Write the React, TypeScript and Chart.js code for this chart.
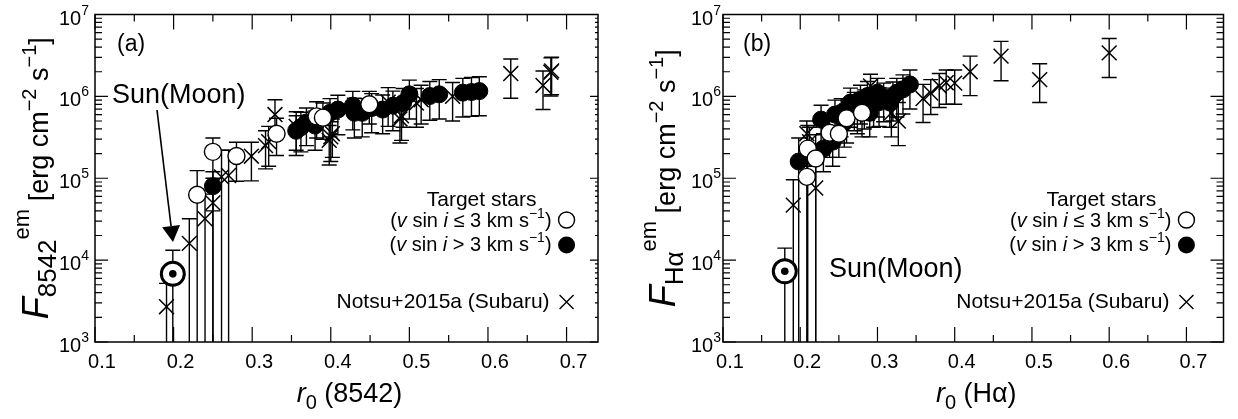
import React, { useEffect, useRef } from "react";
import { Chart, registerables } from "chart.js";
Chart.register(...registerables);

const FONT = '"Liberation Sans", Arial, Helvetica, sans-serif';

// ---------- axis ticks ----------
const X_MAJOR = [0.1, 0.2, 0.3, 0.4, 0.5, 0.6, 0.7];
const X_MAJOR_LABELS = ["0.1", "0.2", "0.3", "0.4", "0.5", "0.6", "0.7"];
const X_MINOR = [0.15, 0.25, 0.35, 0.45, 0.55, 0.65, 0.75];
const Y_EXPONENTS = [3, 4, 5, 6, 7];
const Y_MINOR_MULT = [2, 3, 4, 5, 6, 7, 8, 9];

// ---------- panel (a): r0(8542) vs F8542 ----------
const A_OPEN_R = [0.23, 0.25, 0.28, 0.331, 0.382, 0.39, 0.449];
const A_OPEN_F = [6.3e4, 2.1e5, 1.87e5, 3.5e5, 5.7e5, 5.5e5, 8.0e5];
const A_OPEN_LO = [1e2, 1e2, 9.2e4, 1.9e5, 3.1e5, 3.0e5, 4.6e5];
const A_OPEN_HI = [1.24e5, 3.1e5, 2.75e5, 5.4e5, 8.6e5, 8.3e5, 1.15e6];

const A_FILL_R = [0.25, 0.356, 0.362, 0.369, 0.38, 0.399, 0.409, 0.428, 0.43, 0.44, 0.452, 0.466, 0.479, 0.492, 0.5, 0.526, 0.538, 0.568, 0.579, 0.589];
const A_FILL_F = [8.0e4, 3.8e5, 4.2e5, 4.8e5, 4.4e5, 6.3e5, 6.9e5, 7.7e5, 6.3e5, 6.3e5, 7.2e5, 6.9e5, 7.7e5, 8.3e5, 1.06e6, 1.01e6, 1.06e6, 1.11e6, 1.13e6, 1.16e6];
const A_FILL_LO = [4.0e4, 1.9e5, 2.1e5, 2.5e5, 2.2e5, 3.2e5, 3.4e5, 3.9e5, 3.1e5, 3.2e5, 3.6e5, 3.5e5, 3.8e5, 4.2e5, 5.3e5, 5.1e5, 5.3e5, 5.6e5, 5.7e5, 5.8e5];
const A_FILL_HI = [1.2e5, 5.8e5, 6.4e5, 7.2e5, 6.6e5, 9.4e5, 1.03e6, 1.15e6, 9.5e5, 9.4e5, 1.08e6, 1.04e6, 1.16e6, 1.25e6, 1.58e6, 1.52e6, 1.6e6, 1.66e6, 1.7e6, 1.74e6];

const A_CROSS_R = [0.191, 0.22, 0.24, 0.25, 0.261, 0.27, 0.299, 0.317, 0.321, 0.329, 0.356, 0.398, 0.4, 0.402, 0.473, 0.488, 0.49, 0.509, 0.515, 0.555, 0.629, 0.67, 0.68, 0.681];
const A_CROSS_F = [2.7e3, 1.6e4, 3.2e4, 5.0e4, 1.04e5, 1.08e5, 1.86e5, 2.5e5, 2.8e5, 6.0e5, 4.3e5, 2.9e5, 3.2e5, 3.5e5, 8.5e5, 5.3e5, 5.8e5, 8.3e5, 9.1e5, 1.0e6, 1.9e6, 1.36e6, 1.97e6, 2.05e6];
const A_CROSS_LO = [1e2, 1e2, 1e2, 1e2, 1e2, 1e2, 9.3e4, 1.3e5, 1.4e5, 3.3e5, 2.2e5, 1.45e5, 1.6e5, 1.8e5, 4.3e5, 2.7e5, 2.9e5, 4.2e5, 4.6e5, 5.0e5, 9.5e5, 6.9e5, 1.01e6, 1.05e6];
const A_CROSS_HI = [5.2e3, 3.2e4, 6.4e4, 1.0e5, 2.2e5, 2.2e5, 2.75e5, 3.8e5, 4.3e5, 9.1e5, 6.5e5, 4.4e5, 4.9e5, 5.3e5, 1.28e6, 8.0e5, 8.8e5, 1.25e6, 1.37e6, 1.48e6, 2.86e6, 2.04e6, 2.95e6, 3.0e6];

const A_SUN_R = [0.199];
const A_SUN_F = [6.8e3];
const A_SUN_LO = [1e2];
const A_SUN_HI = [1.32e4];

// ---------- panel (b): r0(Halpha) vs FHalpha ----------
const B_OPEN_R = [0.2085, 0.2097, 0.22, 0.238, 0.25, 0.26, 0.28];
const B_OPEN_F = [1.04e5, 2.3e5, 1.74e5, 3.6e5, 3.5e5, 5.4e5, 6.3e5];
const B_OPEN_LO = [1e2, 1e2, 1e2, 1.8e5, 1.8e5, 2.7e5, 3.2e5];
const B_OPEN_HI = [2.0e5, 4.4e5, 3.4e5, 5.4e5, 5.2e5, 8.1e5, 9.4e5];

const B_FILL_R = [0.198, 0.227, 0.23, 0.242, 0.245, 0.253, 0.257, 0.265, 0.27, 0.274, 0.278, 0.283, 0.287, 0.29, 0.295, 0.3, 0.302, 0.308, 0.316, 0.32, 0.325, 0.333, 0.342];
const B_FILL_F = [1.6e5, 5.2e5, 2.3e5, 2.8e5, 6.0e5, 6.3e5, 4.8e5, 8.4e5, 7.5e5, 6.9e5, 9.1e5, 8.0e5, 1.01e6, 6.3e5, 8.4e5, 1.11e6, 8.5e5, 9.7e5, 8.4e5, 1.0e6, 1.11e6, 1.22e6, 1.4e6];
const B_FILL_LO = [1e2, 2.6e5, 1.2e5, 1.4e5, 3.0e5, 3.2e5, 2.4e5, 4.2e5, 3.8e5, 3.5e5, 4.6e5, 4.0e5, 5.1e5, 3.2e5, 4.2e5, 5.6e5, 4.3e5, 4.9e5, 4.2e5, 5.0e5, 5.6e5, 6.1e5, 7.0e5];
const B_FILL_HI = [3.1e5, 7.8e5, 3.5e5, 4.2e5, 9.0e5, 9.4e5, 7.2e5, 1.26e6, 1.12e6, 1.04e6, 1.37e6, 1.2e6, 1.52e6, 9.4e5, 1.26e6, 1.66e6, 1.28e6, 1.45e6, 1.26e6, 1.5e6, 1.66e6, 1.83e6, 2.1e6];

const B_CROSS_R = [0.191, 0.2085, 0.212, 0.22, 0.291, 0.318, 0.327, 0.359, 0.369, 0.38, 0.389, 0.4, 0.42, 0.46, 0.51, 0.6];
const B_CROSS_F = [4.7e4, 3.5e5, 2.8e5, 7.6e4, 1.34e6, 6.3e5, 5.0e5, 9.4e5, 1.1e6, 1.34e6, 1.47e6, 1.45e6, 2.0e6, 3.1e6, 1.6e6, 3.4e6];
const B_CROSS_LO = [1e2, 1.8e5, 1.4e5, 1e2, 6.7e5, 3.2e5, 2.5e5, 4.8e5, 6.0e5, 7.3e5, 8.0e5, 8.0e5, 1.02e6, 1.55e6, 8.4e5, 1.7e6];
const B_CROSS_HI = [9.6e4, 5.0e5, 4.2e5, 1.5e5, 1.86e6, 9.5e5, 8.4e5, 1.4e6, 1.6e6, 1.9e6, 2.1e6, 2.1e6, 3.1e6, 4.7e6, 2.5e6, 5.1e6];

const B_SUN_R = [0.18];
const B_SUN_F = [7.3e3];
const B_SUN_LO = [1e2];
const B_SUN_HI = [1.4e4];

// ---------- text ----------
type Part = { t: string; s: number; i?: boolean; dy?: number };

const A_Y_TITLE: Part[] = [
  { t: "F", s: 36, i: true },
  { t: "8542", s: 26, dy: 8 },
  { t: "em", s: 22, dy: -19 },
  { t: " [erg cm", s: 27 },
  { t: "\u22122", s: 20, dy: -12 },
  { t: " s", s: 27 },
  { t: "\u22121", s: 20, dy: -12 },
  { t: "]", s: 27 },
];
const B_Y_TITLE: Part[] = [
  { t: "F", s: 36, i: true },
  { t: "H\u03b1", s: 26, dy: 8 },
  { t: "em", s: 22, dy: -19 },
  { t: " [erg cm", s: 27 },
  { t: "\u22122", s: 20, dy: -12 },
  { t: " s", s: 27 },
  { t: "\u22121", s: 20, dy: -12 },
  { t: "]", s: 27 },
];
const A_X_TITLE: Part[] = [
  { t: "r", s: 27, i: true },
  { t: "0", s: 20, dy: 7 },
  { t: " (8542)", s: 27 },
];
const B_X_TITLE: Part[] = [
  { t: "r", s: 27, i: true },
  { t: "0", s: 20, dy: 7 },
  { t: " (H\u03b1)", s: 27 },
];
const LEG_TITLE: Part[] = [{ t: "Target stars", s: 21 }];
const LEG_SLOW: Part[] = [
  { t: "(", s: 20 }, { t: "v", s: 20, i: true }, { t: " sin ", s: 20 }, { t: "i", s: 20, i: true },
  { t: " \u2264 3 km s", s: 20 }, { t: "\u22121", s: 14, dy: -9 }, { t: ")", s: 20 },
];
const LEG_FAST: Part[] = [
  { t: "(", s: 20 }, { t: "v", s: 20, i: true }, { t: " sin ", s: 20 }, { t: "i", s: 20, i: true },
  { t: " > 3 km s", s: 20 }, { t: "\u22121", s: 14, dy: -9 }, { t: ")", s: 20 },
];
const LEG_NOTSU: Part[] = [{ t: "Notsu+2015a (Subaru)", s: 21 }];
const SUN_LABEL = "Sun(Moon)";

function fontOf(p: Part) {
  return `${p.i ? "italic " : ""}${p.s}px ${FONT}`;
}
function richWidth(ctx: CanvasRenderingContext2D, parts: Part[]) {
  let w = 0;
  for (const p of parts) {
    ctx.font = fontOf(p);
    w += ctx.measureText(p.t).width;
  }
  return w;
}
function drawRich(ctx: CanvasRenderingContext2D, parts: Part[], x: number, y: number, align: "left" | "right" | "center") {
  const w = richWidth(ctx, parts);
  let cx = align === "left" ? x : align === "right" ? x - w : x - w / 2;
  ctx.textAlign = "left";
  ctx.textBaseline = "alphabetic";
  for (const p of parts) {
    ctx.font = fontOf(p);
    ctx.fillText(p.t, cx, y + (p.dy || 0));
    cx += ctx.measureText(p.t).width;
  }
}

function mkSet(label: string, r: number[], f: number[], lo: number[], hi: number[], style: any) {
  return {
    label,
    data: r.map((x, i) => ({ x, y: f[i] })),
    errLo: lo,
    errHi: hi,
    showLine: false,
    ...style,
  };
}

const errorBarPlugin = {
  id: "errbars",
  beforeDatasetsDraw(chart: any) {
    const { ctx, chartArea: a, scales } = chart;
    const xs = scales.x;
    const ys = scales.y;
    ctx.save();
    ctx.beginPath();
    ctx.rect(a.left, a.top, a.right - a.left, a.bottom - a.top);
    ctx.clip();
    ctx.strokeStyle = "#000";
    ctx.lineWidth = 1.4;
    chart.data.datasets.forEach((ds: any) => {
      if (!ds.errLo) return;
      ds.data.forEach((p: any, i: number) => {
        const px = xs.getPixelForValue(p.x);
        const yl = ys.getPixelForValue(ds.errLo[i]);
        const yh = ys.getPixelForValue(ds.errHi[i]);
        ctx.beginPath();
        ctx.moveTo(px, yl);
        ctx.lineTo(px, yh);
        ctx.moveTo(px - 7.5, yh);
        ctx.lineTo(px + 7.5, yh);
        ctx.moveTo(px - 7.5, yl);
        ctx.lineTo(px + 7.5, yl);
        ctx.stroke();
      });
    });
    ctx.restore();
  },
};

function makeDecor(cfg: any) {
  return {
    id: "decor",
    afterDraw(chart: any) {
      const { ctx, chartArea: a, scales } = chart;
      const xs = scales.x;
      const ys = scales.y;
      ctx.save();
      ctx.strokeStyle = "#000";
      ctx.fillStyle = "#000";
      // frame
      ctx.lineWidth = 1.5;
      ctx.strokeRect(a.left, a.top, a.right - a.left, a.bottom - a.top);
      // x ticks
      ctx.lineWidth = 1.2;
      ctx.beginPath();
      X_MAJOR.forEach((v) => {
        const px = xs.getPixelForValue(v);
        ctx.moveTo(px, a.bottom); ctx.lineTo(px, a.bottom - 15);
        ctx.moveTo(px, a.top); ctx.lineTo(px, a.top + 15);
      });
      X_MINOR.forEach((v) => {
        const px = xs.getPixelForValue(v);
        if (px > a.right - 1) return;
        ctx.moveTo(px, a.bottom); ctx.lineTo(px, a.bottom - 7);
        ctx.moveTo(px, a.top); ctx.lineTo(px, a.top + 7);
      });
      // y ticks
      Y_EXPONENTS.forEach((e) => {
        const py = ys.getPixelForValue(Math.pow(10, e));
        ctx.moveTo(a.left, py); ctx.lineTo(a.left + 13, py);
        ctx.moveTo(a.right, py); ctx.lineTo(a.right - cfg.rightMajor, py);
        if (e < 7) {
          Y_MINOR_MULT.forEach((m) => {
            const qy = ys.getPixelForValue(m * Math.pow(10, e));
            ctx.moveTo(a.left, qy); ctx.lineTo(a.left + 7, qy);
            ctx.moveTo(a.right, qy); ctx.lineTo(a.right - cfg.rightMinor, qy);
          });
        }
      });
      ctx.stroke();
      // x tick labels
      X_MAJOR.forEach((v, i) => {
        const px = xs.getPixelForValue(v);
        drawRich(ctx, [{ t: X_MAJOR_LABELS[i], s: 20 }], px + 7, a.bottom + 26, "center");
      });
      // y tick labels
      Y_EXPONENTS.forEach((e) => {
        const py = ys.getPixelForValue(Math.pow(10, e));
        drawRich(ctx, [{ t: "10", s: 20 }, { t: String(e), s: 14, dy: -10 }], a.left - cfg.yLabelGap, py + 10, "right");
      });
      // axis titles
      drawRich(ctx, cfg.xTitle, (a.left + a.right) / 2 + 3, a.bottom + 60, "center");
      ctx.save();
      ctx.translate(cfg.yTitleX, (a.top + a.bottom) / 2);
      ctx.rotate(-Math.PI / 2);
      drawRich(ctx, cfg.yTitle, 0, 0, "center");
      ctx.restore();
      // panel tag
      drawRich(ctx, [{ t: cfg.tag, s: 23 }], cfg.tagX, 51, "left");
      // Sun label
      drawRich(ctx, [{ t: SUN_LABEL, s: 27 }], cfg.sunX, cfg.sunY, "left");
      if (cfg.arrow) {
        const [x0, y0, x1, y1] = cfg.arrow;
        const len = Math.hypot(x1 - x0, y1 - y0);
        const dx = (x1 - x0) / len;
        const dy = (y1 - y0) / len;
        const bx = x1 - 16 * dx;
        const by = y1 - 16 * dy;
        ctx.lineWidth = 1.6;
        ctx.beginPath();
        ctx.moveTo(x0, y0);
        ctx.lineTo(bx, by);
        ctx.stroke();
        ctx.beginPath();
        ctx.moveTo(x1, y1);
        ctx.lineTo(bx - 9 * dy, by + 9 * dx);
        ctx.lineTo(bx + 9 * dy, by - 9 * dx);
        ctx.closePath();
        ctx.fill();
      }
      // legend
      const mx = xs.getPixelForValue(0.7);
      drawRich(ctx, LEG_TITLE, mx - 85, 206, "center");
      drawRich(ctx, LEG_SLOW, mx - 15, 227, "right");
      drawRich(ctx, LEG_FAST, mx - 15, 251, "right");
      drawRich(ctx, LEG_NOTSU, mx - 17, 308, "right");
      ctx.lineWidth = 1.4;
      ctx.beginPath();
      ctx.arc(mx, 220, 8, 0, Math.PI * 2);
      ctx.fillStyle = "#fff";
      ctx.fill();
      ctx.stroke();
      ctx.fillStyle = "#000";
      ctx.beginPath();
      ctx.arc(mx, 245, 8.5, 0, Math.PI * 2);
      ctx.fill();
      ctx.beginPath();
      ctx.moveTo(mx - 7, 295); ctx.lineTo(mx + 7, 309);
      ctx.moveTo(mx - 7, 309); ctx.lineTo(mx + 7, 295);
      ctx.stroke();
      ctx.restore();
    },
  };
}

const OPEN_STYLE = { pointStyle: "circle", pointRadius: 8.5, pointBackgroundColor: "#fff", pointBorderColor: "#000", pointBorderWidth: 1.4, order: 0 };
const FILL_STYLE = { pointStyle: "circle", pointRadius: 8.5, pointBackgroundColor: "#000", pointBorderColor: "#000", pointBorderWidth: 1, order: 1 };
const CROSS_STYLE = { pointStyle: "crossRot", pointRadius: 10.5, pointBorderColor: "#000", pointBorderWidth: 1.5, order: 2 };
const SUN_OUT_STYLE = { pointStyle: "circle", pointRadius: 11.5, pointBackgroundColor: "#fff", pointBorderColor: "#000", pointBorderWidth: 3, order: 0 };
const SUN_IN_STYLE = { pointStyle: "circle", pointRadius: 3.8, pointBackgroundColor: "#000", pointBorderColor: "#000", pointBorderWidth: 0, order: -1 };

const PANELS = [
  {
    key: "a",
    left: 0,
    xMax: 0.74,
    pad: { left: 95, right: 21, top: 11, bottom: 77 },
    rightMajor: 8,
    rightMinor: 3,
    yLabelGap: 6,
    yTitle: A_Y_TITLE,
    yTitleX: 48,
    xTitle: A_X_TITLE,
    tag: "(a)",
    tagX: 117,
    sunX: 112,
    sunY: 103,
    arrow: [157, 110, 173, 242],
    sets: [
      mkSet("open", A_OPEN_R, A_OPEN_F, A_OPEN_LO, A_OPEN_HI, OPEN_STYLE),
      mkSet("filled", A_FILL_R, A_FILL_F, A_FILL_LO, A_FILL_HI, FILL_STYLE),
      mkSet("Notsu", A_CROSS_R, A_CROSS_F, A_CROSS_LO, A_CROSS_HI, CROSS_STYLE),
      mkSet("Sun", A_SUN_R, A_SUN_F, A_SUN_LO, A_SUN_HI, SUN_OUT_STYLE),
      { label: "SunDot", data: A_SUN_R.map((x, i) => ({ x, y: A_SUN_F[i] })), ...SUN_IN_STYLE },
    ],
  },
  {
    key: "b",
    left: 619,
    xMax: 0.748,
    pad: { left: 104, right: 5, top: 11, bottom: 77 },
    rightMajor: 13,
    rightMinor: 7,
    yLabelGap: 2,
    yTitle: B_Y_TITLE,
    yTitleX: 56,
    xTitle: B_X_TITLE,
    tag: "(b)",
    tagX: 124,
    sunX: 210,
    sunY: 277,
    arrow: null,
    sets: [
      mkSet("open", B_OPEN_R, B_OPEN_F, B_OPEN_LO, B_OPEN_HI, OPEN_STYLE),
      mkSet("filled", B_FILL_R, B_FILL_F, B_FILL_LO, B_FILL_HI, FILL_STYLE),
      mkSet("Notsu", B_CROSS_R, B_CROSS_F, B_CROSS_LO, B_CROSS_HI, CROSS_STYLE),
      mkSet("Sun", B_SUN_R, B_SUN_F, B_SUN_LO, B_SUN_HI, SUN_OUT_STYLE),
      { label: "SunDot", data: B_SUN_R.map((x, i) => ({ x, y: B_SUN_F[i] })), ...SUN_IN_STYLE },
    ],
  },
];

function Panel({ cfg }: { cfg: any }) {
  const ref = useRef<HTMLCanvasElement>(null);
  useEffect(() => {
    const chart = new Chart(ref.current as HTMLCanvasElement, {
      type: "scatter",
      data: { datasets: cfg.sets },
      options: {
        animation: false,
        responsive: false,
        maintainAspectRatio: false,
        devicePixelRatio: 1,
        layout: { padding: cfg.pad },
        events: [],
        scales: {
          x: { type: "linear", min: 0.1, max: cfg.xMax, display: false },
          y: { type: "logarithmic", min: 1e3, max: 1e7, display: false },
        },
        plugins: { legend: { display: false }, tooltip: { enabled: false } },
      } as any,
      plugins: [errorBarPlugin, makeDecor(cfg)],
    } as any);
    return () => chart.destroy();
  }, []);
  return (
    <canvas
      ref={ref}
      width={619}
      height={419}
      style={{ position: "absolute", left: cfg.left, top: 0, width: 619, height: 419 }}
    />
  );
}

export default function App() {
  return (
    <div style={{ position: "absolute", left: 0, top: 0, width: 1238, height: 419, background: "#fff", overflow: "hidden" }}>
      {PANELS.map((p) => (
        <Panel key={p.key} cfg={p} />
      ))}
    </div>
  );
}
